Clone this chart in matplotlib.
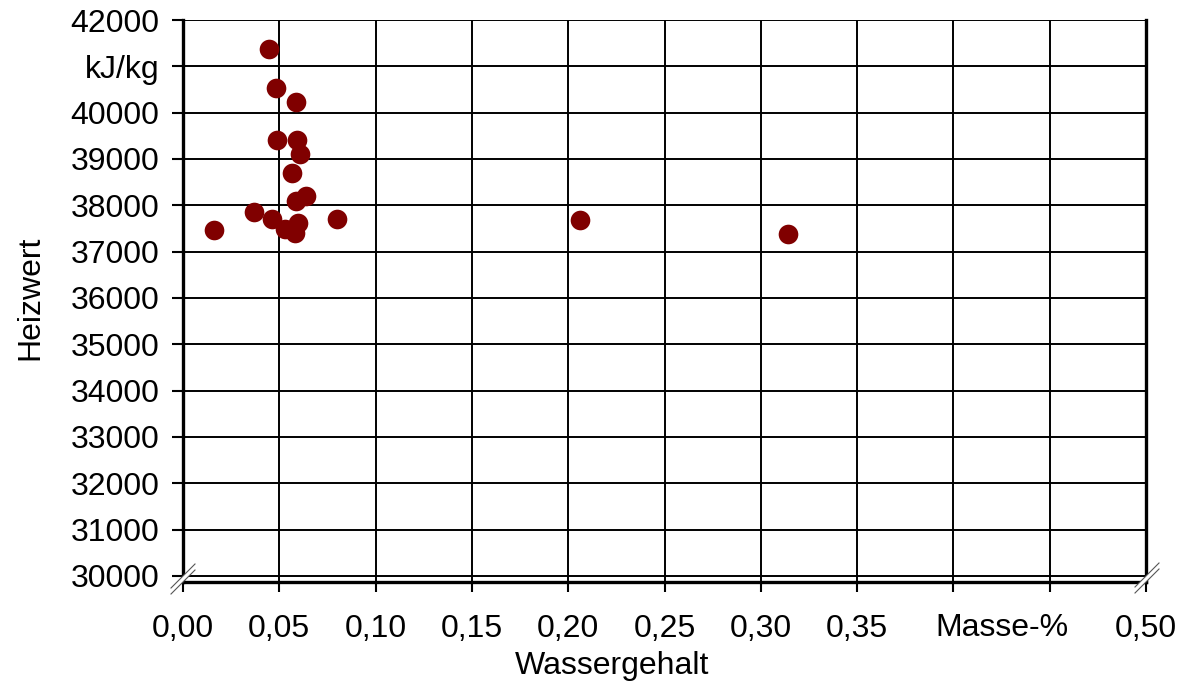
import numpy as np
import matplotlib
matplotlib.use("Agg")
import matplotlib.pyplot as plt
from matplotlib.lines import Line2D
from matplotlib.patches import Polygon
from matplotlib.transforms import blended_transform_factory

plt.rcParams['font.family'] = ['Liberation Sans', 'DejaVu Sans']

# Messwerte: Wassergehalt (Masse-%) und Heizwert (kJ/kg)
wassergehalt = [0.0447, 0.0483, 0.0587, 0.0488, 0.0592, 0.0607, 0.0566, 0.0639,
                0.0587, 0.0369, 0.0462, 0.0800, 0.0597, 0.0530, 0.0582, 0.0161,
                0.2061, 0.3141]
heizwert = [41370, 40530, 40230, 39410, 39400, 39110, 38700, 38210,
            38100, 37860, 37700, 37700, 37620, 37490, 37400, 37470,
            37690, 37380]

x_ticks = [0.00, 0.05, 0.10, 0.15, 0.20, 0.25, 0.30, 0.35, 0.40, 0.45, 0.50]
x_labels = ['0,00', '0,05', '0,10', '0,15', '0,20', '0,25', '0,30', '0,35', '', '', '0,50']
y_ticks = list(range(30000, 42001, 1000))
y_labels = [str(v) for v in y_ticks]
y_labels[-2] = 'kJ/kg'

W, H = 1184, 682
fig = plt.figure(figsize=(W / 100, H / 100), dpi=100)
ax = fig.add_axes([183 / W, 1 - 582 / H, (1146 - 183) / W, (582 - 20) / H])

ax.scatter(wassergehalt, heizwert, s=200, color='#800000', zorder=3, linewidths=0)

ax.set_xlim(0, 0.5)
ax.set_ylim(29870, 42000)
ax.set_xticks(x_ticks)
ax.set_xticklabels(x_labels)
ax.set_yticks(y_ticks)
ax.set_yticklabels(y_labels)
ax.grid(True, color='black', linewidth=1.4)
ax.set_axisbelow(True)

for s in ['left', 'right', 'bottom']:
    ax.spines[s].set_linewidth(2.4)
ax.spines['top'].set_visible(False)

ax.tick_params(axis='both', labelsize=23, direction='out', width=1.5, colors='black')
ax.tick_params(axis='y', length=8, pad=9)
ax.tick_params(axis='x', length=7, pad=16)

# "Masse-%" anstelle der Beschriftungen bei 0,40/0,45
trans = blended_transform_factory(ax.transData, fig.transFigure)
ax.text(0.425, 1 - 628 / H, 'Masse-%', transform=trans,
        ha='center', va='center', fontsize=23)

fig.text(30 / W, 1 - 298 / H, 'Heizwert', rotation=90, ha='center', va='center', fontsize=23)
fig.text(612 / W, 1 - 666 / H, 'Wassergehalt', ha='center', va='center', fontsize=23)


# Achsenbruch-Zeichen
def bruch(cx, cy):
    d = 3.0
    dx, dy = 12, 12
    pts = []
    for off in (-d, d):
        pts.append(((cx - dx) / W, 1 - (cy + dy + off) / H))
        pts.append(((cx + dx) / W, 1 - (cy - dy + off) / H))
    poly = Polygon([pts[0], pts[1], pts[3], pts[2]], closed=True,
                   facecolor='white', edgecolor='none', transform=fig.transFigure, zorder=10)
    fig.patches.append(poly)
    for i in (0, 2):
        fig.lines.append(Line2D([pts[i][0], pts[i + 1][0]], [pts[i][1], pts[i + 1][1]],
                                color='#555555', linewidth=0.8, transform=fig.transFigure, zorder=11))


bruch(183, 579)
bruch(1147, 578)

fig.savefig('out.png', dpi=100)
